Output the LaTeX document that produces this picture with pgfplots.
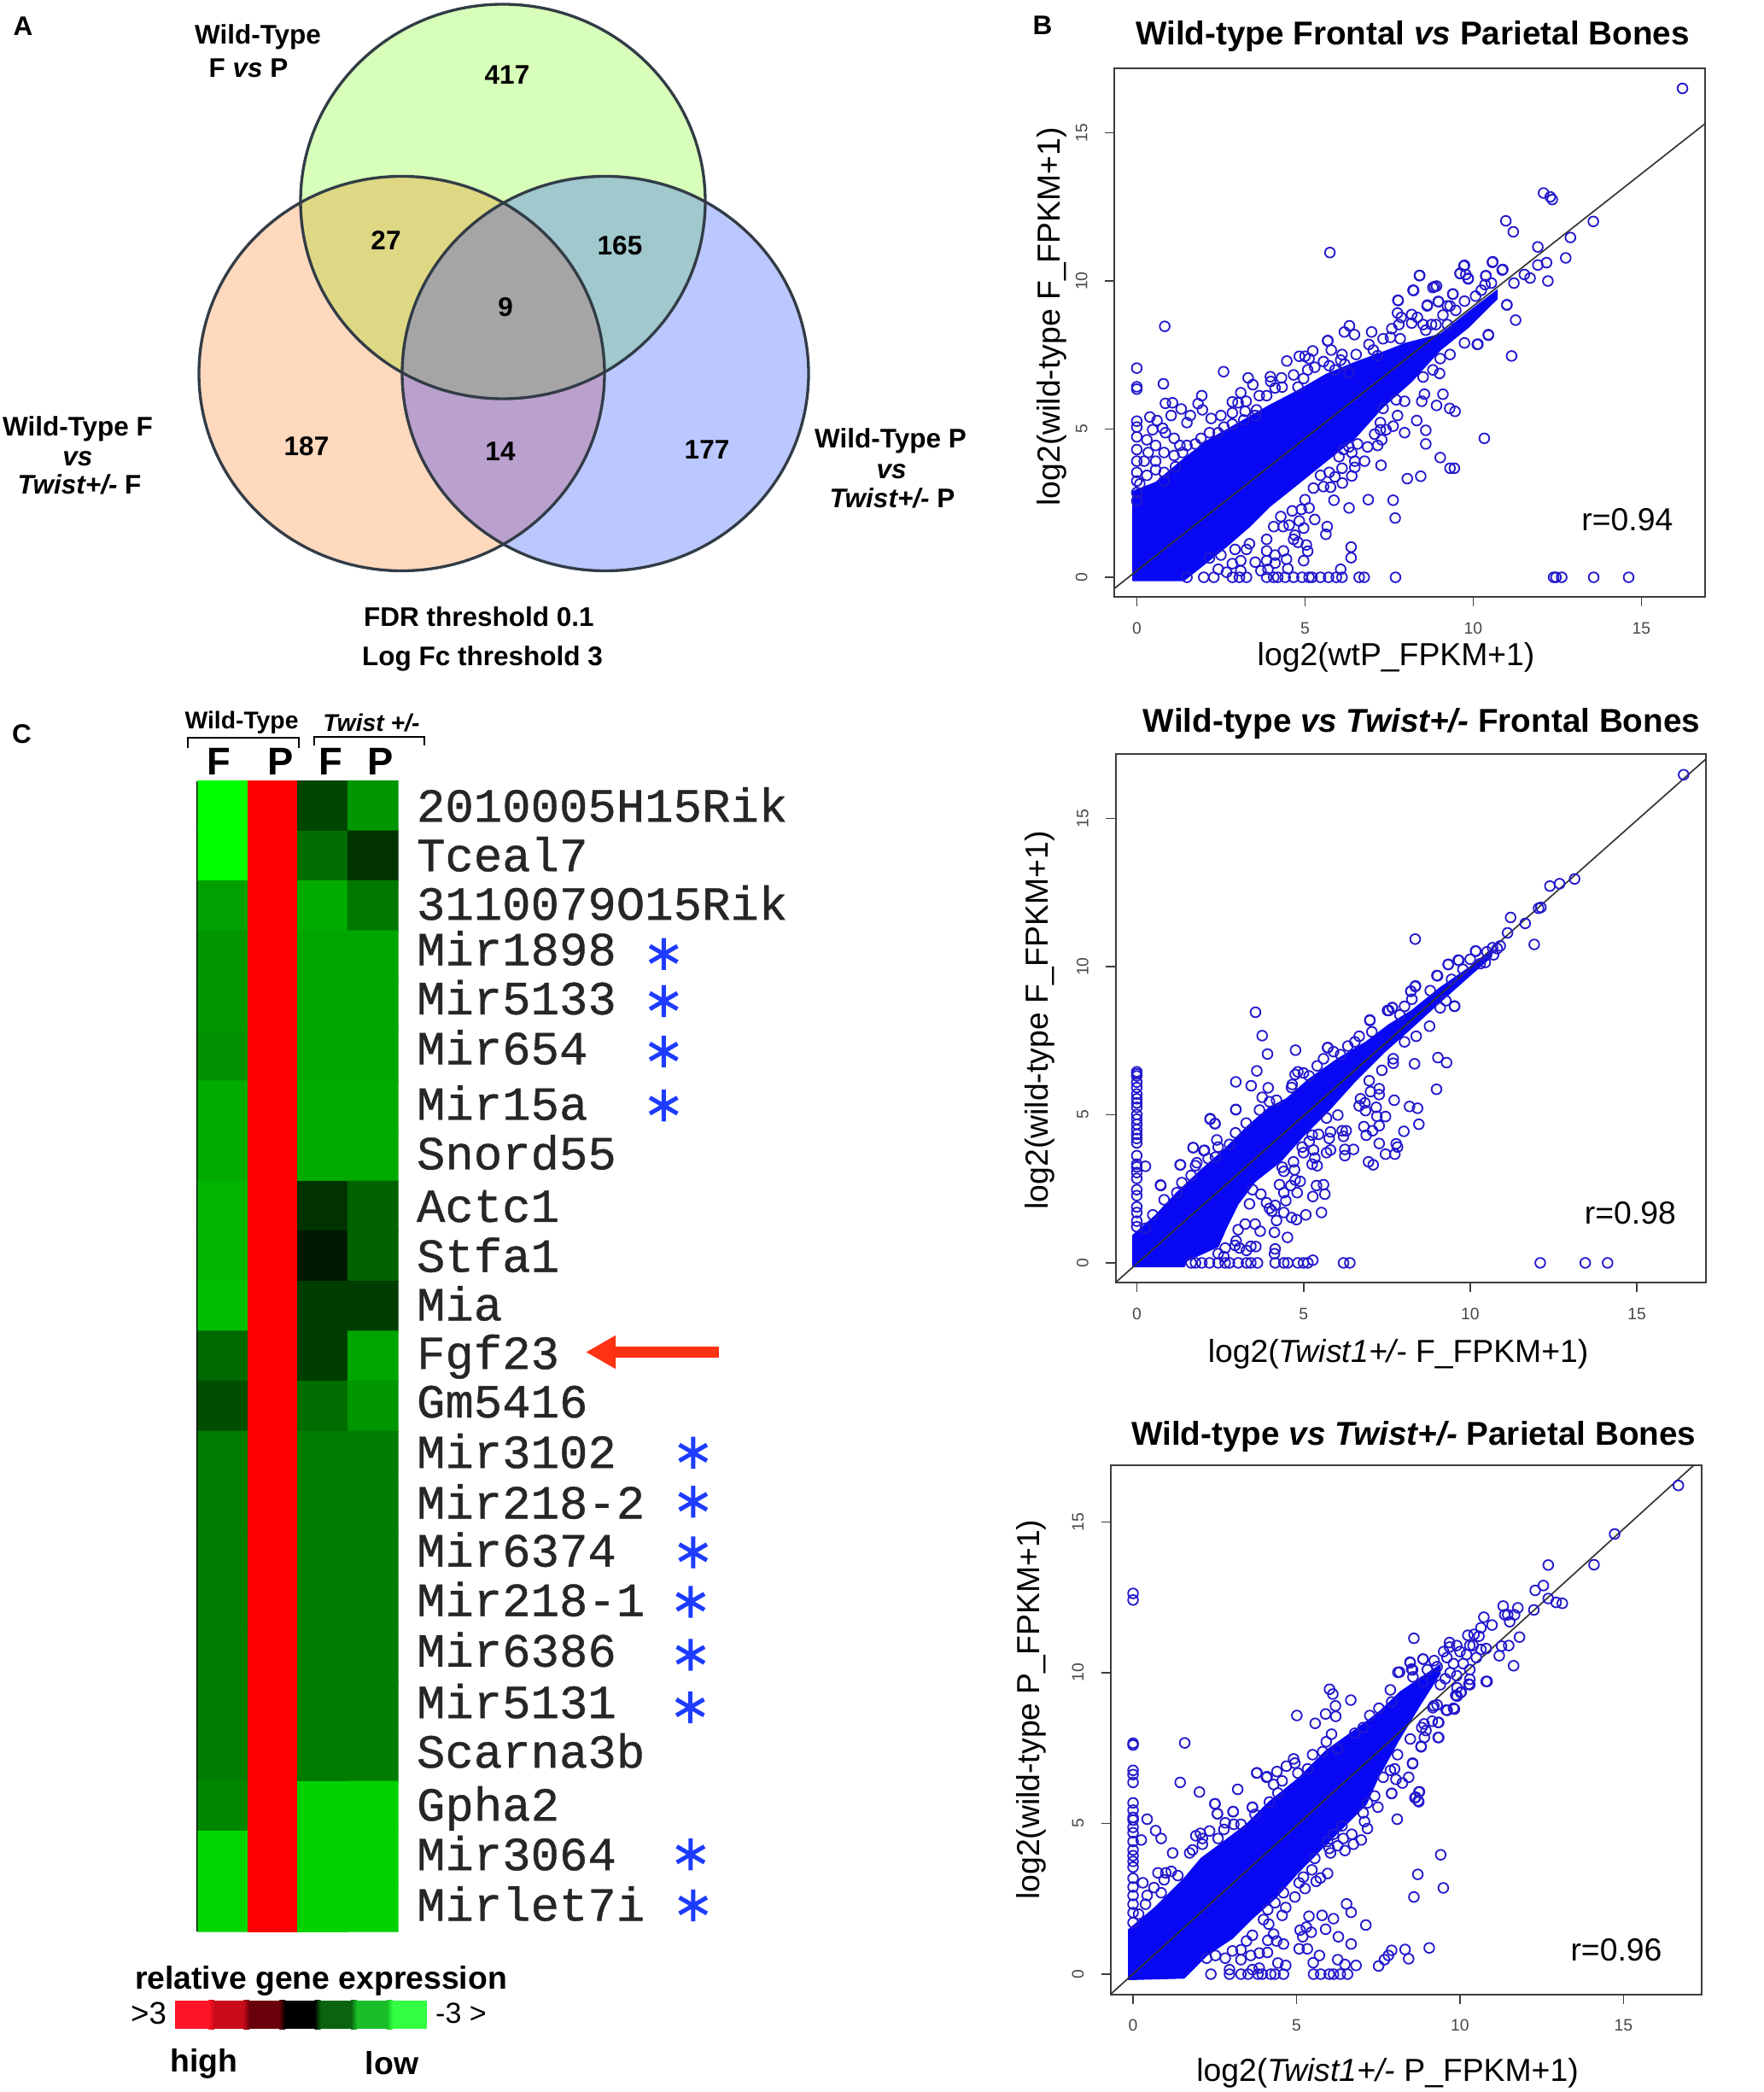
\documentclass[border=0pt]{standalone}
\usepackage{fontspec}
\setmainfont{Liberation Sans}
\setmonofont{Liberation Mono}
\newfontfamily\genefont[FakeBold=0.7]{Liberation Mono}
\usepackage{pgfplots}
\pgfplotsset{compat=1.18}
\usetikzlibrary{arrows.meta}

% sizes: the canvas is in reference pixels, 1px = 0.3pt
\newcommand{\fA}{\fontsize{9.45}{11}\selectfont\bfseries}
\newcommand{\fT}{\fontsize{11.6}{13}\selectfont\bfseries}
\newcommand{\fK}{\fontsize{11.2}{13}\selectfont\bfseries}
\newcommand{\fL}{\fontsize{11.2}{13}\selectfont}

\definecolor{topc}{RGB}{215,255,185}
\definecolor{leftc}{RGB}{255,217,190}
\definecolor{rightc}{RGB}{187,200,255}
\definecolor{tlc}{RGB}{222,216,133}
\definecolor{trc}{RGB}{160,200,205}
\definecolor{lrc}{RGB}{186,160,205}
\definecolor{ctrc}{RGB}{165,165,165}
\definecolor{vennline}{RGB}{50,60,70}
\definecolor{dots}{RGB}{35,25,205}
\definecolor{cloud}{RGB}{8,8,245}
\definecolor{starblue}{RGB}{30,60,255}
\definecolor{arrowred}{RGB}{255,50,20}
\definecolor{framegray}{RGB}{60,60,60}
\definecolor{ticktext}{RGB}{70,70,70}
\definecolor{keyA}{RGB}{255,20,40}
\definecolor{keyB}{RGB}{200,10,25}
\definecolor{keyC}{RGB}{105,0,10}
\definecolor{keyD}{RGB}{0,0,0}
\definecolor{keyE}{RGB}{10,100,15}
\definecolor{keyF}{RGB}{25,190,40}
\definecolor{keyG}{RGB}{50,255,65}

\newcommand{\topE}{(axis cs:589,236) ellipse [x radius=237,y radius=231]}
\newcommand{\leftE}{(axis cs:470.5,437.5) ellipse [x radius=237.5,y radius=231]}
\newcommand{\rightE}{(axis cs:709,437.5) ellipse [x radius=238,y radius=231]}

\pgfplotsset{
  every axis title shift=0pt,
  rplot/.style={
    anchor=south west, scale only axis,
    xtick={0,5,10,15}, ytick={0,5,10,15},
    tick align=outside, tick pos=lower,
    major tick length=3.4pt,
    axis line style={color=framegray, line width=0.6pt},
    tick style={color=framegray, line width=0.5pt},
    /pgf/number format/assume math mode=true,
    tick label style={font=\fontsize{5.8}{7}\selectfont, color=ticktext},
    xticklabel style={yshift=-2pt},
    yticklabel style={rotate=90, anchor=south, yshift=2.6pt},
    title style={font=\fT, anchor=center},
    xlabel style={font=\fL, anchor=center},
    ylabel style={font=\fL, anchor=center},
  },
  dotted cloud/.style={only marks, mark=o, mark size=1.75pt, color=dots,
    mark options={line width=0.55pt}},
}

\begin{document}
\begin{tikzpicture}
\useasboundingbox (0,0) rectangle (619.8pt,735pt);

% canvas for the Venn panel, the free text and the colour key
\begin{axis}[
  at={(0pt,0pt)}, anchor=south west, scale only axis,
  width=619.8pt, height=735pt,
  xmin=0, xmax=2066, ymin=0, ymax=2450, y dir=reverse,
  hide axis, clip=false,
]
\fill[topc] \topE;
\fill[leftc] \leftE;
\fill[rightc] \rightE;
\begin{scope}\clip \topE; \fill[tlc] \leftE; \end{scope}
\begin{scope}\clip \topE; \fill[trc] \rightE; \end{scope}
\begin{scope}\clip \leftE; \fill[lrc] \rightE; \end{scope}
\begin{scope}\clip \topE; \clip \leftE; \fill[ctrc] \rightE; \end{scope}
\draw[vennline, line width=1pt] \topE;
\draw[vennline, line width=1pt] \leftE;
\draw[vennline, line width=1pt] \rightE;

\node[font=\fA] at (axis cs:27,31) {A};
\node[font=\fA] at (axis cs:1221,30) {B};
\node[font=\fA] at (axis cs:25.5,860) {C};

\node[font=\fA] at (axis cs:302,43) {Wild-Type};
\node[font=\fA] at (axis cs:291,80) {F \textit{vs} P};
\node[font=\fA] at (axis cs:594,88) {417};
\node[font=\fA] at (axis cs:452,282) {27};
\node[font=\fA] at (axis cs:726,288) {165};
\node[font=\fA] at (axis cs:592,360) {9};
\node[font=\fA] at (axis cs:359,523) {187};
\node[font=\fA] at (axis cs:586,529) {14};
\node[font=\fA] at (axis cs:828,527) {177};
\node[font=\fA] at (axis cs:91,502) {Wild-Type F};
\node[font=\fA] at (axis cs:91,537) {\textit{vs}};
\node[font=\fA] at (axis cs:93,567) {\textit{Twist+/-} F};
\node[font=\fA] at (axis cs:1043,516) {Wild-Type P};
\node[font=\fA] at (axis cs:1044,552) {\textit{vs}};
\node[font=\fA] at (axis cs:1045,583) {\textit{Twist+/-} P};
\node[font=\fA] at (axis cs:561,722) {FDR threshold 0.1};
\node[font=\fA] at (axis cs:565,771) {Log Fc threshold 3};

% heat map header
\node[font=\fontsize{8.5}{10}\selectfont\bfseries] at (axis cs:283,846) {Wild-Type};
\node[font=\fontsize{8.5}{10}\selectfont\bfseries] at (axis cs:435,847) {\textit{Twist +/-}};
\draw[black, line width=0.6pt] (axis cs:220,876) -- (axis cs:220,864) -- (axis cs:350,864) -- (axis cs:350,876);
\draw[black, line width=0.6pt] (axis cs:367.5,873) -- (axis cs:367.5,862.6) -- (axis cs:497,862.6) -- (axis cs:497,873);
\node[font=\fontsize{13.6}{15}\selectfont\bfseries] at (axis cs:256.5,892) {F};
\node[font=\fontsize{13.6}{15}\selectfont\bfseries] at (axis cs:329,892) {P};
\node[font=\fontsize{13.6}{15}\selectfont\bfseries] at (axis cs:387,892) {F};
\node[font=\fontsize{13.6}{15}\selectfont\bfseries] at (axis cs:446,892) {P};

% colour key, with soft steps between its cells
\node[font=\fK] at (axis cs:376,2320) {relative gene expression};
\fill[keyA] (axis cs:205.4,2342.5) rectangle (axis cs:247.5,2376);
\fill[keyB] (axis cs:247.5,2342.5) rectangle (axis cs:288.4,2376);
\fill[keyC] (axis cs:288.4,2342.5) rectangle (axis cs:330.5,2376);
\fill[keyD] (axis cs:330.5,2342.5) rectangle (axis cs:372,2376);
\fill[keyE] (axis cs:372,2342.5) rectangle (axis cs:414.7,2376);
\fill[keyF] (axis cs:414.7,2342.5) rectangle (axis cs:456.8,2376);
\fill[keyG] (axis cs:456.8,2342.5) rectangle (axis cs:499.6,2376);
\shade[left color=keyA, right color=keyB] (axis cs:244,2342.5) rectangle (axis cs:251,2376);
\shade[left color=keyB, right color=keyC] (axis cs:285,2342.5) rectangle (axis cs:292,2376);
\shade[left color=keyC, right color=keyD] (axis cs:327,2342.5) rectangle (axis cs:334,2376);
\shade[left color=keyD, right color=keyE] (axis cs:368.5,2342.5) rectangle (axis cs:375.5,2376);
\shade[left color=keyE, right color=keyF] (axis cs:411,2342.5) rectangle (axis cs:418,2376);
\shade[left color=keyF, right color=keyG] (axis cs:453,2342.5) rectangle (axis cs:460,2376);
\node[font=\fontsize{11}{13}\selectfont] at (axis cs:174,2358) {>3};
\node[font=\fontsize{10.2}{12}\selectfont] at (axis cs:540,2358) {-3 >};
\node[font=\fK] at (axis cs:239,2417) {high};
\node[font=\fK] at (axis cs:459,2416) {low};

% arrow at Fgf23
\draw[arrowred, line width=4pt, -{Triangle[length=10.5pt,width=11pt]}] (axis cs:842,1583.5) -- (axis cs:686,1583.5);
\draw[black, line width=0.75pt] (axis cs:230.8,914.6) -- (axis cs:230.8,2262);
\end{axis}

% heat map
\begin{axis}[
  at={(69.6pt,56.4pt)}, anchor=south west, scale only axis,
  width=70.2pt, height=404.22pt,
  xmin=0.5, xmax=4.5, ymin=0.5, ymax=23.5, y dir=reverse,
  clip=false, enlargelimits=false,
  xtick=\empty,
  axis line style={draw=none}, tick style={draw=none},
  colormap={rg}{rgb255=(255,0,0) rgb255=(0,0,0) rgb255=(0,255,0)},
  point meta min=-1, point meta max=1,
  yticklabel pos=right,
  ytick={1.03,2.02,2.99,3.90,4.88,5.88,6.99,7.98,9.03,10.03,11.0,11.97,12.94,13.95,14.96,15.92,16.91,17.92,18.95,19.94,21.0,21.99,23.0},
  yticklabels={2010005H15Rik,Tceal7,3110079O15Rik,Mir1898,Mir5133,Mir654,Mir15a,Snord55,Actc1,Stfa1,Mia,Fgf23,Gm5416,Mir3102,Mir218-2,Mir6374,Mir218-1,Mir6386,Mir5131,Scarna3b,Gpha2,Mir3064,Mirlet7i},
  yticklabel style={font=\genefont\fontsize{16.7}{18}\selectfont, color=black!85,
    anchor=west, inner sep=0pt, xshift=6.4pt, yshift=-1.5pt, text height=9pt, text depth=2pt},
]
\addplot[matrix plot*, mesh/cols=4, point meta=explicit] table[meta=c] {
x y c
1 1 1
2 1 -1
3 1 .27
4 1 .59
1 2 1
2 2 -1
3 2 .43
4 2 .20
1 3 .63
2 3 -1
3 3 .67
4 3 .47
1 4 .59
2 4 -1
3 4 .65
4 4 .65
1 5 .59
2 5 -1
3 5 .65
4 5 .65
1 6 .57
2 6 -1
3 6 .65
4 6 .65
1 7 .67
2 7 -1
3 7 .67
4 7 .67
1 8 .67
2 8 -1
3 8 .67
4 8 .67
1 9 .71
2 9 -1
3 9 .20
4 9 .39
1 10 .71
2 10 -1
3 10 .10
4 10 .39
1 11 .75
2 11 -1
3 11 .24
4 11 .24
1 12 .41
2 12 -1
3 12 .24
4 12 .65
1 13 .31
2 13 -1
3 13 .43
4 13 .59
1 14 .49
2 14 -1
3 14 .49
4 14 .49
1 15 .49
2 15 -1
3 15 .49
4 15 .49
1 16 .49
2 16 -1
3 16 .49
4 16 .49
1 17 .49
2 17 -1
3 17 .49
4 17 .49
1 18 .49
2 18 -1
3 18 .49
4 18 .49
1 19 .49
2 19 -1
3 19 .49
4 19 .49
1 20 .49
2 20 -1
3 20 .49
4 20 .49
1 21 .53
2 21 -1
3 21 .82
4 21 .82
1 22 .84
2 22 -1
3 22 .82
4 22 .82
1 23 .84
2 23 -1
3 23 .82
4 23 .82
};
\addplot[only marks, mark=asterisk, mark size=5.6pt, color=starblue,
  mark options={line width=1.5pt}] coordinates {
  (9.82,3.96) (9.82,4.90) (9.82,5.91) (9.82,6.99)
  (10.41,13.93) (10.41,14.91) (10.41,15.92) (10.36,16.91) (10.36,17.97) (10.35,19.02)
  (10.36,21.96) (10.41,22.98)
};
\end{axis}

% Wild-type frontal vs parietal
\begin{axis}[
  rplot,
  at={(391.62pt,525.3pt)}, width=207.33pt, height=185.7pt,
  xmin=-0.66, xmax=16.88, ymin=-0.66, ymax=17.18,
  title={Wild-type Frontal \textit{vs} Parietal Bones},
  title style={at={(axis description cs:0.505,1.0598)}},
  xlabel={log2(wtP\_FPKM+1)},
  xlabel style={at={(axis description cs:0.477,-0.114)}},
  ylabel={log2(wild-type F\_FPKM+1)},
  ylabel style={at={(axis description cs:-0.1062,0.53)}},
]
% solid part of the cloud, outlined by eye
\addplot[fill=cloud, draw=cloud, forget plot] coordinates {
  (-0.12,-0.11) (-0.12,2.9) (0.56,3.2) (1.40,4.0) (2.08,4.6) (3.09,5.25) (3.94,5.8) (4.79,6.3)
  (5.63,6.85) (6.48,7.25) (7.32,7.6) (8.0,7.9) (9.02,8.2) (9.86,8.95) (10.71,9.69)
  (10.71,9.4) (9.86,8.44) (9.02,7.67) (8.17,6.61) (7.32,5.75) (6.48,4.69) (5.63,3.92) (4.79,3.15)
  (3.94,2.38) (3.35,1.71) (2.67,1.04) (1.82,0.27) (1.4,-0.11) (-0.12,-0.11)
};
\addplot[dotted cloud] coordinates {
  (16.22,16.5) (12.09,12.97) (12.29,12.84) (12.35,12.75) (10.97,12.03) (13.57,12.01) (11.19,11.66)
  (12.89,11.47) (5.74,10.96) (11.92,11.15) (12.75,10.78) (12.18,10.62) (11.92,10.54) (10.57,10.63)
  (9.72,10.51) (10.86,10.37) (10.38,10.18) (8.4,10.18) (9.61,10.25) (9.85,10.07) (12.22,10.0)
  (11.52,10.22) (11.69,10.1) (11.21,9.93) (8.85,9.81) (8.23,9.68) (7.77,9.34) (8.96,9.31) (9.39,9.56)
  (8.63,9.16) (11.26,8.68) (10.45,8.19) (11.14,7.47) (10.14,7.87) (11.0,9.19) (0.83,8.47) (6.32,8.49)
  (6.17,8.28) (6.47,8.19) (6.98,8.28) (5.68,7.99) (0,7.06) (0,6.43) (0,6.35) (0.79,6.53) (2.58,6.94)
  (10.33,4.69) (12.39,0) (12.46,0) (12.63,0) (13.58,0) (14.62,0)
  (0.39,5.41) (0.60,5.29) (1.02,5.46) (1.32,5.68) (1.59,5.46) (1.49,5.22) (0.85,5.87) (1.06,5.89)
  (1.82,5.86) (1.93,6.13) (1.95,5.65) (2.21,5.36) (2.50,5.46) (2.84,5.92) (3.09,6.23) (3.01,5.89)
  (3.25,5.94) (2.84,5.55) (3.22,5.60) (3.56,5.65) (3.64,6.13) (3.86,6.13) (4.11,6.39) (4.32,6.42)
  (3.31,6.73) (3.45,6.50) (3.97,6.77) (3.98,6.61) (4.30,6.73) (4.66,6.83) (4.96,6.71) (4.79,6.42)
  (5.08,7.0) (5.29,7.09) (5.55,7.28) (5.72,7.14) (5.12,7.38) (4.83,7.46) (5.0,7.46) (5.23,7.64)
  (4.46,7.30) (5.67,7.98) (5.78,7.67) (6.10,7.52) (6.06,7.33) (6.52,7.52) (6.18,7.19) (6.31,6.90)
  (5.89,7.0) (6.90,7.86) (7.03,7.67) (7.16,7.48) (7.32,8.05) (7.58,8.39) (7.83,8.05) (7.54,8.10)
  (7.75,8.92) (8.17,8.87) (8.34,8.77) (8.17,8.58) (8.51,8.53) (8.76,8.53) (8.59,8.34) (8.89,8.53)
  (9.10,8.85) (9.23,8.53) (8.64,9.19) (8.97,9.30) (9.23,9.16) (9.31,9.16) (9.40,9.56) (9.74,9.32)
  (9.48,9.01) (10.07,9.49) (10.24,9.69) (10.35,9.88) (10.54,9.93) (10.37,10.17) (9.61,10.26)
  (9.78,10.22) (9.85,10.09) (9.74,10.53) (10.58,10.65) (10.88,10.39) (8.41,10.19) (8.21,9.69)
  (8.80,9.78) (8.91,9.83) (7.76,9.35) (7.86,8.77) (7.79,8.53)
  (0,5.27) (0,5.07) (0,4.74) (0,4.31) (0.30,4.64) (0.47,4.98) (0.77,5.03) (0.85,4.88) (1.11,4.69)
  (1.28,4.45) (1.49,4.45) (1.74,4.5) (1.91,4.69) (2.16,4.88) (0.56,4.45) (0.34,4.21) (0.81,4.21)
  (0.22,3.92) (0.56,3.92) (1.11,4.11) (1.36,4.21) (0,3.92) (0,3.54) (0,3.25) (0,2.86) (0,2.58)
  (0.30,3.44) (0.56,3.63) (0.81,3.54) (0.09,3.15) (0.81,3.25) (1.15,3.73) (2.42,4.88) (2.59,5.07)
  (2.84,5.17) (3.18,5.31) (3.52,5.46)
  (9.02,7.38) (9.31,7.52) (9.74,7.91) (10.12,7.86) (10.45,8.17) (11.0,9.2) (9.0,6.88) (8.80,7.0)
  (8.51,6.76) (8.55,6.18) (9.10,6.18) (8.47,5.94) (7.71,5.99) (7.96,5.94) (8.91,5.8) (9.30,5.70)
  (9.46,5.6) (7.32,5.70) (7.75,5.46) (7.24,5.22) (7.62,5.10) (8.32,5.29) (8.59,4.96) (7.96,4.88)
  (7.41,4.98) (7.24,4.98) (7.07,4.83) (7.28,4.64) (7.16,4.45) (6.86,4.40) (8.59,4.5) (6.56,4.5)
  (6.31,4.40) (6.39,4.21) (6.14,4.31) (6.01,4.07) (6.48,3.92) (6.77,3.92) (7.26,3.78) (9.02,4.04)
  (9.31,3.68) (9.44,3.68) (8.04,3.33) (8.44,3.41) (6.10,3.68) (6.48,3.71) (5.89,3.39) (6.39,3.42)
  (6.11,3.18) (5.72,3.54) (5.46,3.44) (5.55,3.06) (5.76,3.04) (5.25,3.01) (5.0,2.62) (5.86,2.6)
  (6.88,2.62) (7.62,2.6) (6.31,2.34) (5.12,2.34) (4.89,2.29) (4.62,2.24) (4.83,1.90) (5.29,1.95)
  (7.68,2.0) (4.28,2.05) (4.07,1.71) (4.53,1.76) (4.35,1.71) (4.96,1.66) (5.66,1.71) (5.62,1.45)
  (4.70,1.42) (4.66,1.28) (4.79,1.18) (5.04,1.09) (5.08,0.88) (3.86,1.28) (3.86,0.89) (4.36,0.89)
  (4.11,0.75) (6.37,1.02) (6.37,0.66) (4.96,0.56) (4.45,0.61) (3.52,0.51) (3.86,0.56) (4.11,0.48)
  (3.09,0.56) (4.49,0.29) (3.90,0.27) (6.06,0.27) (3.69,0.22) (2.84,0.46) (2.50,0.75) (2.16,0.65)
  (3.35,1.13) (3.26,0.94) (2.92,0.94) (2.42,0.27) (3.09,0.22) (2.67,0.17) (1.99,0) (1.49,0)
  (2.29,0) (2.84,0) (3.05,0) (3.26,0) (3.86,0) (4.07,0) (4.19,0) (4.41,0) (4.66,0) (4.91,0) (5.12,0)
  (5.21,0) (5.46,0) (5.70,0) (5.93,0) (6.10,0) (6.61,0) (6.76,0) (7.69,0)
};
\addplot[color=black!80, line width=0.5pt] coordinates {(-0.66,-0.37) (16.88,15.3)};
\node[font=\fL] at (axis cs:14.58,1.93) {r=0.94};
\end{axis}

% Wild-type vs Twist+/- frontal
\begin{axis}[
  rplot,
  at={(391.98pt,284.4pt)}, width=207.3pt, height=185.7pt,
  xmin=-0.635, xmax=17.06, ymin=-0.663, ymax=17.18,
  title={Wild-type \textit{vs Twist+/-} Frontal Bones},
  title style={at={(axis description cs:0.5187,1.0572)}},
  xlabel={log2(\textit{Twist1+/-} F\_FPKM+1)},
  xlabel style={at={(axis description cs:0.479,-0.1347)}},
  ylabel={log2(wild-type F\_FPKM+1)},
  ylabel style={at={(axis description cs:-0.128,0.496)}},
]
\addplot[fill=cloud, draw=cloud, forget plot] coordinates {
  (-0.12,-0.13) (-0.12,0.93) (0.56,1.6) (1.2,2.37) (1.93,3.14) (2.61,3.81) (3.29,4.58) (3.98,5.25)
  (4.49,5.54) (5.17,6.21) (6.03,6.89) (6.88,7.46) (7.56,8.04) (8.25,8.52) (9.1,9.29) (9.96,9.96)
  (10.64,10.54) (10.64,10.34) (9.96,9.67) (9.1,8.81) (8.25,7.94) (7.39,7.08) (6.54,6.12) (5.69,5.06)
  (5.0,4.29) (4.32,3.43) (3.55,2.75) (3.04,1.99) (2.7,1.22) (2.44,0.55) (1.50,0.07) (1.42,-0.13)
  (-0.12,-0.13)
};
\addplot[dotted cloud] coordinates {
  (16.4,16.48) (13.13,12.96) (12.68,12.8) (12.39,12.72) (12.12,12.0) (12.05,11.97) (11.21,11.66)
  (11.65,11.46) (11.12,11.14) (11.92,10.75) (8.35,10.93) (10.16,10.53) (9.34,10.08) (9.66,10.21)
  (10.67,10.64) (10.81,10.61) (10.45,10.14) (9.0,9.7) (8.35,9.33) (8.22,9.17) (9.53,8.67) (3.56,8.46)
  (7.56,8.52) (7.66,8.62) (6.99,8.18) (3.76,7.67) (4.76,7.18) (3.92,7.05) (5.72,7.26) (3.6,6.48)
  (2.97,6.11) (3.43,5.98) (3.94,5.91) (2.2,4.85) (2.35,4.7) (2.97,5.17) (1.69,3.89) (2.03,3.8)
  (1.3,3.31) (0.71,2.63) (0.26,3.26) (12.1,0) (13.45,0) (14.12,0)
  (10.9,10.7) (10.7,10.4) (10.5,10.5) (10.3,10.1)
  (0,6.45) (0,6.38) (0,6.31) (0,6.1) (0,5.92) (0,5.7) (0,5.54) (0,5.4) (0,5.25) (0,5.01) (0,4.85) (0,4.68)
  (0,4.5) (0,4.34) (0,4.2) (0,4.05) (0,3.62) (0,3.33) (0,3.24) (0,3.05) (0,2.85) (0,2.47) (0,2.27) (0,1.89)
  (0,1.7) (0,1.41) (0,1.22)
  (3.76,5.59) (3.98,5.44) (4.19,5.49) (3.68,5.16) (2.97,5.18) (2.2,4.87) (2.34,4.70) (3.28,4.72) (2.96,4.39)
  (2.40,4.15) (2.78,4.0) (2.44,3.91) (1.69,3.89) (2.01,3.79) (1.8,3.38) (1.76,3.28) (1.31,3.31) (2.14,3.52)
  (2.36,3.57) (1.63,2.95) (0.72,2.61) (1.35,2.71) (0.82,2.13) (0.48,1.62) (1.2,2.37) (0.26,1.17) (4.66,6.02)
  (4.64,5.92) (4.83,6.45) (4.75,6.36) (5.0,6.41) (5.17,6.31) (5.41,6.65) (5.6,6.89) (5.73,7.27) (5.9,7.13)
  (6.11,7.03) (6.33,7.32) (6.54,7.46) (6.67,7.65) (7.05,7.8) (6.99,8.2) (7.52,8.52) (7.67,8.61) (8.03,8.66)
  (7.89,8.37) (8.25,8.9) (8.22,9.17) (8.36,9.35) (8.8,9.19) (9.02,9.69) (9.34,10.07) (9.64,10.22) (10,10.25)
  (10.17,10.52) (9.44,9.57) (9.78,9.91)
  (9.53,8.66) (9.1,8.61) (9.27,8.85) (8.78,7.99) (8.38,7.65) (8.03,7.46) (7.69,6.74) (7.69,6.89) (7.35,6.5)
  (8.33,6.72) (9.03,6.93) (9.29,6.76) (8.99,5.86) (6.97,6.15) (7.27,5.88) (7.27,5.68) (7.01,5.78) (6.71,5.54)
  (7.72,5.49) (6.67,5.3) (6.86,5.14) (6.84,5.4) (8.18,5.28) (8.42,5.22) (7.18,5.25) (7.2,4.95) (7.46,4.94)
  (8.46,4.68) (6.81,4.6) (7.27,4.63) (7.07,4.46) (6.88,4.31) (8.01,4.44) (7.27,4.03) (7.78,4.02) (7.82,3.91)
  (7.46,3.67) (7.74,3.67) (6.95,3.41) (7.09,3.31) (6.03,4.99) (5.69,4.89) (5.45,4.34) (5.81,4.42) (5.77,4.2)
  (6.16,4.46) (6.28,4.46) (6.2,4.27) (5.26,4.31) (5.17,4.1) (4.96,3.91) (5.3,3.81) (5.0,3.72) (5.81,3.81)
  (5.69,3.72) (6.24,3.83) (6.5,3.83) (6.24,3.62) (5.34,3.54) (5.26,3.33) (5.41,3.28) (4.7,3.41) (4.36,3.23)
  (4.41,3.09) (4.73,3.14) (4.75,2.8) (4.9,2.75) (4.28,2.64) (4.62,2.61) (5.39,2.61) (5.6,2.64) (4.41,2.37)
  (4.81,2.37) (5.64,2.32) (5.28,2.24) (4.47,2.1) (4.15,1.94) (3.89,2.03) (3.72,2.32) (3.47,2.47) (3.38,1.99)
  (3.98,1.84) (4.41,1.7) (4.05,1.75) (5.54,1.7) (5.07,1.62) (4.64,1.53) (4.79,1.46) (4.19,1.43) (3.25,1.31)
  (3.55,1.31) (3.7,1.07) (4.13,1.03) (4.52,0.86) (3.04,1.12) (2.98,0.74) (2.95,0.59) (3.42,0.56) (3.57,0.55)
  (3.08,0.5) (2.65,0.5) (4.15,0.47) (4.13,0.31) (3.29,0.42) (2.44,0.31) (2.61,0.21) (5.28,0.09)
  (1.63,0) (1.76,0) (1.95,0) (2.18,0) (2.44,0) (2.65,0) (2.78,0) (3.04,0) (3.29,0) (3.42,0) (3.62,0) (4.15,0)
  (4.41,0) (4.53,0) (4.83,0) (5.0,0) (5.13,0) (6.2,0) (6.39,0)
};
\addplot[color=black!80, line width=0.5pt] coordinates {(-0.635,-0.66) (17.06,17.0)};
\node[font=\fL] at (axis cs:14.8,1.67) {r=0.98};
\end{axis}

% Wild-type vs Twist+/- parietal
\begin{axis}[
  rplot,
  at={(390.3pt,34.35pt)}, width=207.45pt, height=185.85pt,
  xmin=-0.68, xmax=17.38, ymin=-0.666, ymax=16.88,
  title={Wild-type \textit{vs Twist+/-} Parietal Bones},
  title style={at={(axis description cs:0.513,1.0539)}},
  xlabel={log2(\textit{Twist1+/-} P\_FPKM+1)},
  xlabel style={at={(axis description cs:0.4685,-0.149)}},
  ylabel={log2(wild-type P\_FPKM+1)},
  ylabel style={at={(axis description cs:-0.1345,0.538)}},
]
\addplot[fill=cloud, draw=cloud, forget plot] coordinates {
  (-0.14,-0.18) (-0.14,1.47) (0.69,2.23) (1.56,3.17) (2.08,3.84) (2.78,4.4) (3.47,4.97) (4.17,5.72)
  (5.04,6.48) (5.91,7.42) (6.78,8.09) (7.48,8.65) (8.17,9.36) (8.87,9.88) (9.39,10.26) (9.39,9.97)
  (8.78,8.93) (8.1,7.71) (7.48,6.48) (7.13,5.63) (6.43,4.87) (5.73,4.12) (5.04,3.36) (4.34,2.51)
  (3.65,1.85) (3.04,1.19) (2.25,0.62) (1.56,-0.13) (-0.14,-0.18)
};
\addplot[dotted cloud] coordinates {
  (16.68,16.21) (14.73,14.6) (12.7,13.57) (14.1,13.58) (0,12.63) (0,12.41) (12.55,12.89) (12.3,12.73)
  (12.7,12.46) (12.94,12.33) (13.13,12.3) (11.32,12.21) (11.77,12.15) (12.26,12.08) (11.37,11.92)
  (11.46,11.92) (11.67,11.92) (11.52,11.69) (10.73,11.84) (10.98,11.58) (10.64,11.49) (8.59,11.14)
  (10.24,11.24) (10.43,11.27) (10.58,11.21) (11.82,11.18) (11.49,10.9) (11.27,10.88) (11.2,10.56)
  (11.64,10.23) (9.68,11.0) (9.68,10.85) (10.64,10.77) (8.87,10.45) (8.47,10.35) (8.1,10.01) (8.55,10.09)
  (9.21,10.4) (10.8,9.71) (10.27,9.62) (10.02,9.34) (9.87,9.25) (9.8,8.82) (9.58,8.76) (6.01,9.45)
  (6.11,9.29) (6.66,9.09) (6.19,8.9) (5.89,8.63) (6.2,8.55) (5.01,8.58) (5.57,8.32) (9.33,8.35)
  (9.33,7.85) (8.81,7.56) (8.55,6.98) (0,7.66) (0,7.6) (1.58,7.67) (0,6.76) (0,6.62) (0,6.36) (1.44,6.36)
  (2.03,6.04) (3.2,6.13) (3.79,6.68) (4.1,6.55) (2.5,5.65) (2.58,5.32) (3.06,5.39) (3.65,5.53)
  (8.74,6.04) (8.62,5.85) (8.72,5.75) (7.91,6.0) (9.41,3.96) (8.71,3.31) (9.49,2.86)
  (8.59,2.56) (6.53,2.33) (6.67,2.05) (7.12,1.63) (5.78,1.95) (6.13,1.84) (5.38,1.92) (5.89,1.49) (5.3,1.56)
  (5.11,1.46) (5.19,1.24) (5.45,1.39) (6.28,1.24) (6.67,1.0) (9.06,0.87) (8.32,0.82) (7.91,0.79) (7.81,0.62)
  (8.43,0.51) (7.69,0.48) (7.51,0.27) (6.82,0.29) (6.48,0.32) (6.26,0.48) (5.7,0.62) (5.33,0.84) (5.08,0.84)
  (5.51,0.38)
  (9.3,10.2) (9.6,10.5) (10,10.7) (10.4,10.9) (9,10.1) (9.4,9.6) (9.7,10) (10.1,10.3) (9.2,8.9) (8.9,8.3)
  (9.5,10.7) (9.8,10.3) (10.2,10.6) (10.5,10.5) (10.8,10.8) (9.9,10.9) (10.3,10.9) (9.55,9.8) (9.9,9.9) (10.3,10.1)
  (0,5.68) (0,5.44) (0,5.2) (0,5.11) (0,4.87) (0,4.69) (0,4.4) (0,4.12) (0,3.93) (0,3.74) (0,3.55) (0,3.18)
  (0,2.89) (0,2.61) (0,2.32) (0,2.04) (0,1.71)
  (0.43,5.14) (0.69,4.76) (0.86,4.5) (0.25,4.45) (1.21,4.02) (1.73,4.02) (1.82,4.12) (1.92,4.59) (2.06,4.67)
  (2.12,4.5) (2.12,4.31) (2.34,4.75) (2.6,4.5) (2.78,4.8) (2.82,5.02) (3.08,4.97) (3.3,4.97) (2.58,5.32)
  (3.06,5.39) (2.51,5.65) (3.65,5.54) (3.73,5.3) (4.17,5.71) (4.43,6.01) (4.3,6.29) (4.56,6.41) (4.08,6.53)
  (3.78,6.67) (4.4,6.72) (4.69,6.9) (4.91,7.14) (4.95,7.0) (5.04,6.67) (5.34,6.81) (5.49,7.28) (5.8,7.38)
  (5.91,7.71) (6.07,7.96) (6.26,7.47) (6.78,7.99) (7.04,8.18) (7.24,8.58) (7.52,8.82) (7.87,9.43) (7.91,9.03)
  (8.15,10.02) (8.56,9.86) (8.48,10.33) (8.87,10.45) (8.52,10.12) (8.87,9.69) (0.76,3.36) (1.0,3.36)
  (1.17,3.41) (0.95,3.13) (1.37,3.27) (0.3,3.03) (0.64,2.87) (0.43,2.61) (0.38,2.32) (0.17,1.99) (0.86,2.7)
  (9.35,7.85) (10.83,9.71) (10.3,9.78) (10.3,9.6) (9.91,9.5) (10.04,9.36) (9.91,9.22) (9.83,8.79) (9.61,8.75)
  (9.35,8.35) (9.15,8.39) (9.3,8.93) (9.17,8.84) (8.91,7.85) (8.96,8.08) (8.83,8.18) (8.81,7.54) (8.48,7.8)
  (8.55,7.0) (8.43,6.53) (8.24,6.34) (8.04,6.46) (7.87,6.76) (8.0,6.81) (8.09,7.28) (7.65,6.53) (8.76,6.05)
  (8.65,5.87) (8.74,5.72) (7.91,5.99) (7.49,5.54) (8.08,5.14) (7.39,5.91) (7.17,5.68) (7.04,5.35) (7.08,5.06)
  (7.17,4.83) (6.98,4.45) (6.74,4.31) (6.48,4.1) (6.26,4.26) (6.04,4.02) (6.0,4.17) (6.69,4.64) (6.43,4.5)
  (6.39,4.92) (6.13,4.64) (5.95,4.4) (5.56,3.84) (5.47,3.46) (5.95,3.34) (5.73,3.19) (5.6,3.08) (5.21,3.22)
  (5.08,3.03) (5.26,2.84) (4.95,2.56) (4.6,2.7) (4.34,2.37) (4.67,2.21) (4.56,1.95) (4.12,2.14) (3.99,1.81)
  (4.15,1.66) (4.3,1.33) (4.12,1.12) (4.39,1.1) (4.6,1.0) (4.11,0.72) (3.86,0.7) (3.65,1.29) (3.47,1.1)
  (3.6,0.62) (3.3,0.81) (3.04,0.77) (2.82,0.53) (3.3,0.48) (2.52,0.62) (2.25,0.53) (3.86,0.2) (4.43,0.37)
  (4.67,0.29) (3.65,0.15) (2.95,0.15)
  (2.38,0) (2.95,0) (3.3,0) (3.52,0) (3.82,0) (3.95,0) (4.21,0) (4.34,0) (4.6,0) (5.52,0) (5.74,0) (6.0,0)
  (6.13,0) (6.34,0) (6.56,0)
};
\addplot[color=black!80, line width=0.5pt] coordinates {(-0.68,-0.66) (17.15,16.88)};
\node[font=\fL] at (axis cs:14.78,0.79) {r=0.96};
\end{axis}
\end{tikzpicture}
\end{document}
